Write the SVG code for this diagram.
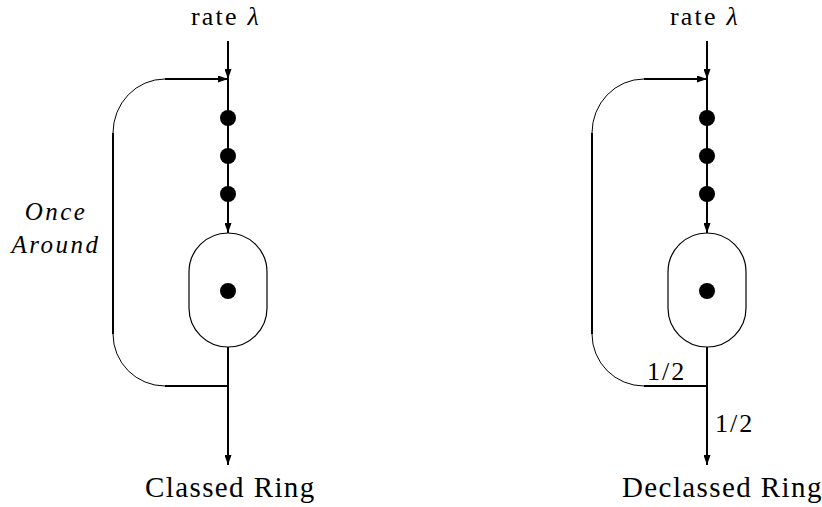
<svg xmlns="http://www.w3.org/2000/svg" width="822" height="507" viewBox="0 0 822 507">
<style>
.thick{stroke:#000;stroke-width:2;fill:none}
.thin{stroke:#000;stroke-width:1;fill:none}
.oval{stroke:#000;stroke-width:1.2;fill:#fff}
.dot{fill:#000}
.t{font-family:"Liberation Serif","Times New Roman",serif;fill:#000}
.lbl{font-size:29px;letter-spacing:1.4px}
.rate{font-size:26px;letter-spacing:2.2px}
.it{font-size:25px;font-style:italic;letter-spacing:2.5px}
.frac{font-size:26px;letter-spacing:2px}
</style>
<defs>
<marker id="ah" markerUnits="userSpaceOnUse" markerWidth="11" markerHeight="7" refX="10" refY="3.5" orient="auto">
<path d="M0,0 L10,3.5 L0,7 z" fill="#000"/>
</marker>
</defs>

<g id="connectors">
<!-- left diagram -->
<line class="thick" x1="228" y1="41" x2="228" y2="79" marker-end="url(#ah)"/>
<line class="thick" x1="228" y1="79" x2="228" y2="233" marker-end="url(#ah)"/>
<line class="thick" x1="228" y1="347" x2="228" y2="465" marker-end="url(#ah)"/>
<line class="thick" x1="228" y1="386" x2="165" y2="386"/>
<path class="thin" d="M165,386 A52,52 0 0 1 113,334"/>
<line class="thick" x1="113" y1="334" x2="113" y2="133"/>
<path class="thin" d="M113,133 A52,54 0 0 1 165,79"/>
<line class="thick" x1="165" y1="79" x2="228" y2="79" marker-end="url(#ah)"/>
<!-- right diagram -->
<line class="thick" x1="707" y1="41" x2="707" y2="79" marker-end="url(#ah)"/>
<line class="thick" x1="707" y1="79" x2="707" y2="233" marker-end="url(#ah)"/>
<line class="thick" x1="707" y1="347" x2="707" y2="465" marker-end="url(#ah)"/>
<line class="thick" x1="707" y1="386" x2="644" y2="386"/>
<path class="thin" d="M644,386 A52,52 0 0 1 592,334"/>
<line class="thick" x1="592" y1="334" x2="592" y2="133"/>
<path class="thin" d="M592,133 A52,54 0 0 1 644,79"/>
<line class="thick" x1="644" y1="79" x2="707" y2="79" marker-end="url(#ah)"/>
</g>

<g id="left-queue">
<circle class="dot" cx="228" cy="118" r="8"/>
<circle class="dot" cx="228" cy="156" r="8"/>
<circle class="dot" cx="228" cy="194" r="8"/>
</g>
<g id="left-ring">
<rect class="oval" x="189" y="233" width="78" height="114" rx="39" ry="39"/>
<circle class="dot" cx="228" cy="291" r="8"/>
</g>
<g id="right-queue">
<circle class="dot" cx="707" cy="118" r="8"/>
<circle class="dot" cx="707" cy="156" r="8"/>
<circle class="dot" cx="707" cy="194" r="8"/>
</g>
<g id="right-ring">
<rect class="oval" x="668" y="233" width="78" height="114" rx="39" ry="39"/>
<circle class="dot" cx="707" cy="291" r="8"/>
</g>

<g id="labels">
<text class="t rate" x="191" y="25">rate <tspan font-style="italic">λ</tspan></text>
<text class="t rate" x="670" y="25">rate <tspan font-style="italic">λ</tspan></text>
<text class="t it" x="56" y="220" text-anchor="middle">Once</text>
<text class="t it" x="56" y="253" text-anchor="middle">Around</text>
<text class="t lbl" x="145" y="497">Classed Ring</text>
<text class="t lbl" x="622" y="497">Declassed Ring</text>
<text class="t frac" x="647" y="380">1/2</text>
<text class="t frac" x="715" y="432">1/2</text>
</g>
</svg>
